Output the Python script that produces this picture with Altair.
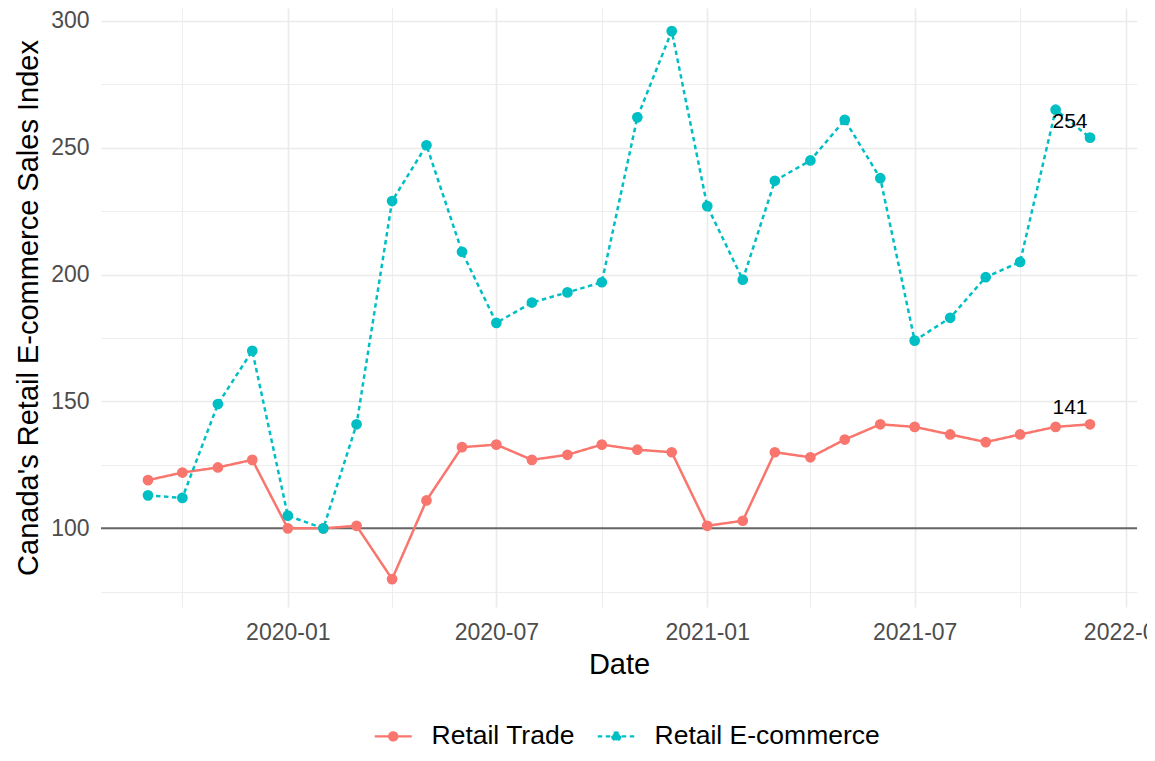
import altair as alt
import pandas as pd

months = ["2019-09-01", "2019-10-01", "2019-11-01", "2019-12-01",
          "2020-01-01", "2020-02-01", "2020-03-01", "2020-04-01", "2020-05-01", "2020-06-01",
          "2020-07-01", "2020-08-01", "2020-09-01", "2020-10-01", "2020-11-01", "2020-12-01",
          "2021-01-01", "2021-02-01", "2021-03-01", "2021-04-01", "2021-05-01", "2021-06-01",
          "2021-07-01", "2021-08-01", "2021-09-01", "2021-10-01", "2021-11-01", "2021-12-01"]
retail_trade = [119, 122, 124, 127, 100, 100, 101, 80, 111, 132, 133, 127, 129, 133, 131, 130,
                101, 103, 130, 128, 135, 141, 140, 137, 134, 137, 140, 141]
retail_ecommerce = [113, 112, 149, 170, 105, 100, 141, 229, 251, 209, 181, 189, 193, 197, 262, 296,
                    227, 198, 237, 245, 261, 238, 174, 183, 199, 205, 265, 254]
series_names = ["Retail Trade", "Retail E-commerce"]
series_colors = ["#F8766D", "#00BFC4"]
series_dashes = [[1, 0], [4.5, 3.5]]
baseline = [100]
x_tick_months = [(2019, 10), (2020, 1), (2020, 4), (2020, 7), (2020, 10), (2021, 1),
                 (2021, 4), (2021, 7), (2021, 10), (2022, 1)]
y_tick_values = [75, 100, 125, 150, 175, 200, 225, 250, 275, 300]

rows = []
for name, vals in zip(series_names, [retail_trade, retail_ecommerce]):
    for m, v in zip(months, vals):
        rows.append({"date": m, "value": v, "series": name})
df = pd.DataFrame(rows)
last_df = df[df["date"] == months[-1]]
base_df = pd.DataFrame({"y": baseline})

FONT = "Liberation Sans"

x_scale = alt.Scale(type="utc", domain=[alt.DateTime(year=2019, month=7, date=22, utc=True),
                                        alt.DateTime(year=2022, month=1, date=11, utc=True)])
y_scale = alt.Scale(domain=[69, 305.1], nice=False, zero=False)

x_axis = alt.Axis(
    title="Date",
    values=[alt.DateTime(year=y, month=m, date=1, utc=True) for y, m in x_tick_months],
    labelExpr="utcmonth(datum.value) % 6 == 0 ? utcFormat(datum.value, '%Y-%m') : ''",
    gridWidth={"condition": {"test": "utcmonth(datum.value) % 6 == 0", "value": 1.6}, "value": 0.9},
    labelPadding=14, titlePadding=6, labelFlush=False, labelOverlap=False,
)
y_axis = alt.Axis(
    title="Canada's Retail E-commerce Sales Index",
    values=y_tick_values,
    labelExpr="datum.value % 50 == 0 ? datum.label : ''",
    gridWidth={"condition": {"test": "datum.value % 50 == 0", "value": 1.6}, "value": 0.9},
    labelPadding=12, titlePadding=7,
)

legend = alt.Legend(
    title=None, orient="none", legendX=279, legendY=715, direction="horizontal",
    symbolType="M-3.7,0H3.7M0.8,0A0.8,0.8,0,1,1,-0.8,0A0.8,0.8,0,1,1,0.8,0Z",
    symbolSize=100, symbolStrokeWidth=2.4,
    labelFont=FONT, labelFontSize=26.5, labelColor="#000000", labelOffset=25, labelLimit=400,
    columnPadding=17,
)

color = alt.Color("series:N", scale=alt.Scale(domain=series_names, range=series_colors), legend=legend)
dash = alt.StrokeDash("series:N", scale=alt.Scale(domain=series_names, range=series_dashes), legend=legend)

xenc = alt.X("date:T", scale=x_scale, axis=x_axis)
yenc = alt.Y("value:Q", scale=y_scale, axis=y_axis)

hline = alt.Chart(base_df).mark_rule(color="#666666", strokeWidth=2).encode(
    y=alt.Y("y:Q", scale=y_scale)
)
lines = alt.Chart(df).mark_line(strokeWidth=2.5).encode(x=xenc, y=yenc, color=color, strokeDash=dash)
points = alt.Chart(df).mark_point(filled=True, size=115, opacity=1).encode(x=xenc, y=yenc, color=color)
labels = alt.Chart(last_df).mark_text(
    font=FONT, fontSize=21, color="#000000", dx=-20, dy=-16, baseline="middle"
).encode(x=xenc, y=yenc, text=alt.Text("value:Q"))

chart = alt.layer(hline, lines, points, labels).properties(
    width=1036, height=599,
    autosize=alt.AutoSizeParams(type="none"),
    padding={"left": 93, "top": 0, "right": 10, "bottom": 146},
).configure_axis(
    domain=False, ticks=False, tickSize=0,
    labelFont=FONT, labelFontSize=23, labelColor="#4D4D4D",
    titleFont=FONT, titleFontSize=29, titleFontWeight="normal", titleColor="#000000",
    gridColor="#EBEBEB",
).configure_view(stroke=None)

chart.save("out.html", embed_options={"renderer": "svg", "actions": False})
